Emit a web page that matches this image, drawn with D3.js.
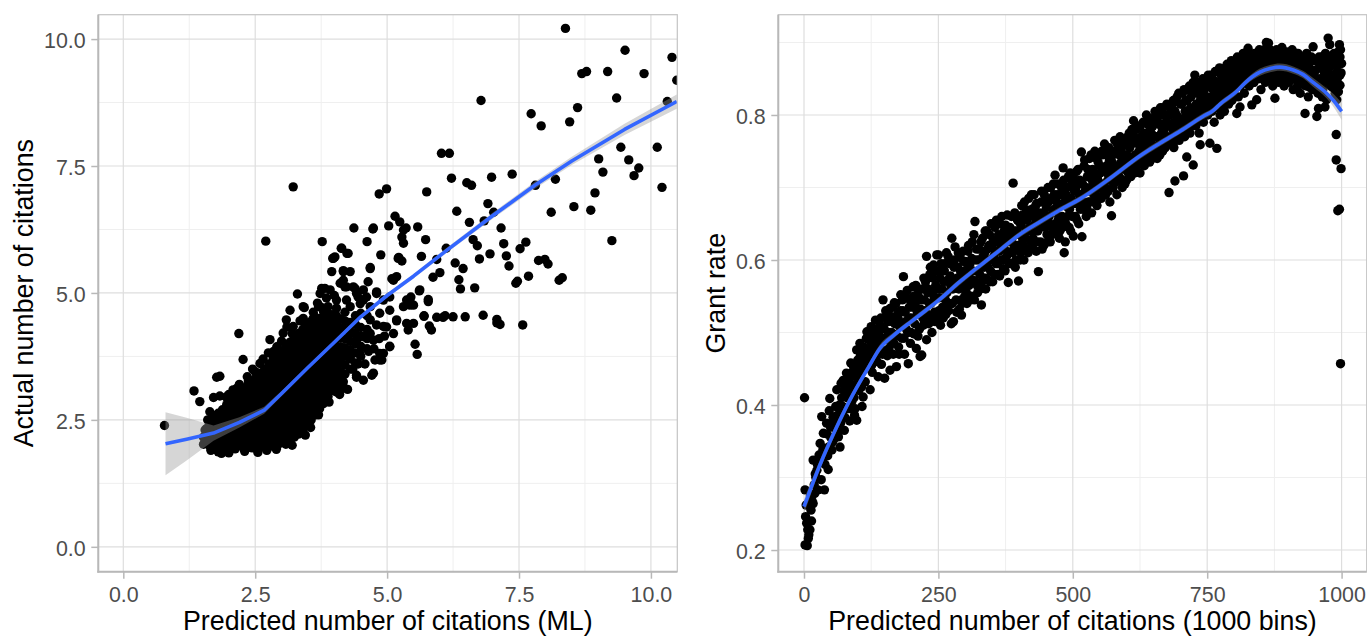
<!DOCTYPE html>
<html><head><meta charset="utf-8">
<script src="https://cdn.jsdelivr.net/npm/d3@7"></script>
<style>body{margin:0;background:#fff}svg{display:block}text{font-family:"Liberation Sans",Arial,sans-serif}</style>
</head><body><svg id="c" width="1367" height="637"></svg>
<script>
// ---------------- LEFT PANEL DATA ----------------
const leftXTicks = [0, 2.5, 5, 7.5, 10];
const leftYTicks = [0, 2.5, 5, 7.5, 10];
const leftXMinor = [1.25, 3.75, 6.25, 8.75];
const leftYMinor = [1.25, 3.75, 6.25, 8.75];
const leftXTitle = "Predicted number of citations (ML)";
const leftYTitle = "Actual number of citations";

const leftSparse = [
[0.78,2.39],[1.34,3.07],[1.45,2.86],[1.77,3.34],[1.83,3.36],[1.71,2.94],[1.83,2.97],[2.08,3.09],[2.15,3.12],[2.19,4.20],
[2.27,3.69],[2.37,3.27],[2.59,3.61],[1.64,2.66],[1.80,1.87],[1.86,1.84],[2.72,1.90],[3.10,2.10],[3.25,2.36],[3.76,2.82],
[3.41,4.50],[3.60,4.50],[3.10,4.33],[2.91,3.94],[3.41,4.73],[3.73,4.73],[2.70,6.02],[3.22,7.09],[3.77,6.01],[3.98,5.68],
[3.95,5.42],[3.30,4.98],[3.43,4.71],[3.73,4.99],[3.82,5.09],[3.88,4.73],[2.78,4.08],[3.03,4.21],[3.09,4.47],[3.16,4.66],
[3.22,4.34],[3.47,4.14],[3.54,4.34],[3.66,2.99],[3.79,2.82],
[4.37,6.28],[4.74,6.28],[4.62,6.01],[5.15,6.51],[5.03,6.32],[5.24,6.40],[5.31,6.24],[4.14,5.88],[3.97,5.68],[4.01,5.71],
[4.26,5.78],[4.88,5.75],[5.21,5.68],[4.17,5.42],[4.30,5.42],[4.68,5.48],[3.76,5.09],[3.92,5.06],[4.17,5.25],[4.23,5.12],
[4.39,5.09],[4.45,4.92],[4.64,5.22],[4.80,5.02],[3.70,4.73],[3.79,4.66],[4.04,4.86],[4.30,4.73],[4.55,4.86],[4.93,4.86],
[5.05,4.66],[5.31,4.73],[5.37,4.86],[5.18,4.47],[4.93,4.34],[4.80,4.37],[4.55,4.14],[4.68,4.20],[5.05,3.94],[4.93,3.81],
[4.86,3.68],[4.48,3.81],[4.74,3.42],[4.55,3.28],[4.42,3.38],[4.17,3.15],[4.04,3.05],
[4.11,5.19],[4.20,5.12],[4.36,5.12],[4.42,4.99],[4.55,5.06],[4.61,4.92],[4.23,4.86],[4.49,4.79],[4.68,4.73],[4.80,4.99],
[5.05,4.92],[5.12,5.25],[5.43,4.86],[5.50,4.76],[5.62,5.06],
[5.43,4.76],[5.78,4.83],[5.70,4.54],[5.94,4.52],[6.06,4.52],[6.25,4.53],[6.48,4.53],[6.82,4.56],[7.08,4.41],[7.14,4.38],
[7.57,4.37],[5.80,4.35],[5.84,4.27],[5.37,4.40],[5.40,4.27],[5.50,4.40],[5.18,4.45],[5.53,3.99],[5.57,3.79],[5.05,3.95],
[4.86,3.81],[4.77,3.68],[4.90,3.68],[4.71,3.38],[4.42,3.34],[4.11,3.09],[4.01,3.12],[4.17,3.25],[4.30,4.20],[4.42,4.07],
[4.17,3.87],[4.30,3.74],[3.92,3.55],[3.98,3.35],[4.68,4.47],[4.86,4.60],[4.99,4.33],[5.12,4.20],[4.74,4.07],
[8.38,10.21],[9.51,9.78],[10.40,9.64],[10.49,9.19],[8.69,9.32],[8.78,9.36],[9.18,9.36],[9.87,9.32],[9.35,8.84],[10.31,8.77],
[6.78,8.79],[7.73,8.53],[7.92,8.29],[8.61,8.65],[8.46,8.37],[6.03,7.75],[6.18,7.75],[9.43,7.87],[10.12,7.87],[9.01,7.64],
[9.58,7.62],[9.77,7.46],[9.68,7.31],[9.09,7.38],[10.21,7.08],[8.94,6.97],[8.54,6.70],[8.86,6.63],[8.11,6.59],[9.26,6.03],
[7.37,7.34],[6.98,7.28],[7.81,7.12],[8.19,7.24],[6.22,7.26],[6.51,7.17],[6.60,7.12],[5.75,6.99],[4.85,6.95],[4.99,7.05],
[6.91,6.76],[7.02,6.59],[6.32,6.61],[6.56,6.39],[6.84,6.42],[7.16,6.28],[4.73,6.26],[5.36,6.28],[5.58,6.30],[5.28,6.10],
[5.31,5.98],[5.73,6.05],[6.63,6.05],[6.71,5.93],[7.21,5.97],[7.63,6.00],[7.52,5.87],[4.13,5.88],[4.24,5.78],[5.22,5.70],
[5.28,5.63],[5.65,5.72],[6.12,5.88],[5.94,5.66],[6.29,5.59],[6.44,5.48],[6.75,5.67],[6.95,5.77],[7.26,5.73],[7.31,5.53],
[7.87,5.64],[7.99,5.66],[8.05,5.57],[4.68,5.50],[4.17,5.44],[5.09,5.28],[5.18,5.32],[5.87,5.31],[6.00,5.40],[6.36,5.26],
[6.39,5.08],[6.66,5.10],[7.44,5.19],[7.47,5.23],[7.68,5.33],[8.26,5.25],[8.32,5.30],[5.45,4.92],[5.47,4.77],[5.61,5.04],
[5.78,4.87],[5.70,4.55],[6.10,4.55],[7.08,4.48],
[3.60,4.62],[3.68,4.80],[3.85,4.90],[4.00,4.95],[3.55,2.35],[3.70,2.60],[3.90,2.85],[4.10,3.00],[4.25,3.10],[4.35,3.50],
[4.45,3.60],[4.58,3.60],[4.65,3.85],[4.75,3.90],[4.85,4.10],[4.95,4.15],[4.62,4.55],[4.50,4.60],[4.40,4.55],[2.50,3.45],
[2.35,3.35],[2.20,3.20],[2.00,3.00],[2.65,3.70],[2.85,3.85],[3.00,4.05],[3.20,4.20],[3.35,4.45],[1.95,2.95],[1.60,2.50],
[1.55,2.30],[1.66,1.90],[2.00,1.85],[2.30,1.88],[2.55,1.86],[2.90,1.92],[3.20,2.00],[3.45,2.20],[2.45,3.50],[2.75,3.82]
];

const leftCoreX = [1.52,1.58,1.64,1.72,1.80,1.88,1.96,2.04,2.12,2.20,2.28,2.36,2.44,2.52,2.60,2.68,2.76,2.84,2.92,3.00,
3.08,3.16,3.24,3.32,3.40,3.48,3.56,3.64,3.72,3.80,3.88,3.96,4.04,4.12,4.20,4.30,4.40,4.50,4.62];
const leftCoreY = [
[2.02,2.16],
[2.33,2.05],
[1.98,2.12,2.27,2.42],
[2.00,2.14,2.29,2.44,2.58],
[2.03,2.18,2.33,2.48,2.63],
[1.95,2.10,2.25,2.40,2.55,2.70],
[1.92,2.06,2.21,2.36,2.51,2.66,2.80],
[1.98,2.13,2.28,2.43,2.58,2.73,2.86],
[1.93,2.07,2.22,2.37,2.52,2.67,2.82,2.96],
[2.00,2.15,2.30,2.45,2.60,2.75,2.90,3.02],
[1.94,2.08,2.23,2.38,2.53,2.68,2.83,2.98,3.10],
[2.01,2.16,2.31,2.46,2.61,2.76,2.91,3.06,3.18],
[1.95,2.09,2.24,2.39,2.54,2.69,2.84,2.99,3.14,3.26],
[2.02,2.17,2.32,2.47,2.62,2.77,2.92,3.07,3.22,3.34],
[1.96,2.10,2.25,2.40,2.55,2.70,2.85,3.00,3.15,3.30,3.42],
[2.03,2.18,2.33,2.48,2.63,2.78,2.93,3.08,3.23,3.38,3.50],
[1.97,2.11,2.26,2.41,2.56,2.71,2.86,3.01,3.16,3.31,3.46,3.60],
[2.04,2.19,2.34,2.49,2.64,2.79,2.94,3.09,3.24,3.39,3.54,3.70],
[1.99,2.12,2.27,2.42,2.57,2.72,2.87,3.02,3.17,3.32,3.47,3.62,3.78],
[2.06,2.20,2.35,2.50,2.65,2.80,2.95,3.10,3.25,3.40,3.55,3.70,3.86],
[2.02,2.14,2.28,2.43,2.58,2.73,2.88,3.03,3.18,3.33,3.48,3.63,3.78,3.95],
[2.10,2.22,2.37,2.52,2.67,2.82,2.97,3.12,3.27,3.42,3.57,3.72,3.87,4.03],
[2.16,2.30,2.45,2.60,2.75,2.90,3.05,3.20,3.35,3.50,3.65,3.80,3.95,4.12],
[2.22,2.38,2.53,2.68,2.83,2.98,3.13,3.28,3.43,3.58,3.73,3.88,4.03,4.20],
[2.30,2.46,2.61,2.76,2.91,3.06,3.21,3.36,3.51,3.66,3.81,3.96,4.11,4.28],
[2.40,2.55,2.70,2.85,3.00,3.15,3.30,3.45,3.60,3.75,3.90,4.05,4.20,4.36],
[2.50,2.64,2.79,2.94,3.09,3.24,3.39,3.54,3.69,3.84,3.99,4.14,4.30,4.44],
[2.60,2.74,2.89,3.04,3.19,3.34,3.49,3.64,3.79,3.94,4.09,4.24,4.40,4.52],
[2.72,2.86,3.01,3.16,3.31,3.46,3.61,3.76,3.91,4.06,4.21,4.36,4.50],
[2.85,2.98,3.13,3.28,3.43,3.58,3.73,3.88,4.03,4.18,4.33,4.48,4.62],
[2.96,3.10,3.25,3.40,3.55,3.70,3.85,4.00,4.15,4.30,4.45,4.60],
[3.08,3.22,3.37,3.52,3.67,3.82,3.97,4.12,4.27,4.42,4.57],
[3.20,3.35,3.50,3.65,3.80,3.95,4.10,4.25,4.40,4.55,4.70],
[3.28,3.45,3.62,3.78,3.94,4.12,4.30,4.48],
[3.40,3.58,3.75,3.92,4.10,4.28,4.45,4.62],
[3.50,3.70,3.88,4.05,4.25,4.42],
[3.62,3.82,4.00,4.20,4.38],
[3.75,3.95,4.15,4.32],
[3.90,4.10,4.28]
];

const leftSmoothX  = [0.80,1.20,1.71,2.20,2.67,3.00,3.50,4.00,4.50,5.00,5.50,6.13,7.00,7.80,8.50,9.50,10.49];
const leftSmoothY  = [2.03,2.12,2.24,2.45,2.69,3.02,3.53,4.03,4.53,4.95,5.33,5.84,6.52,7.12,7.60,8.22,8.77];
const leftSmoothSE = [0.62,0.42,0.15,0.10,0.07,0.05,0.04,0.04,0.04,0.04,0.045,0.05,0.06,0.07,0.08,0.11,0.14];

// ---------------- RIGHT PANEL DATA ----------------
const rightXTicks = [0, 250, 500, 750, 1000];
const rightYTicks = [0.2, 0.4, 0.6, 0.8];
const rightXMinor = [125, 375, 625, 875];
const rightYMinor = [0.3, 0.5, 0.7, 0.9];
const rightXTitle = "Predicted number of citations (1000 bins)";
const rightYTitle = "Grant rate";

const rightPoints = [
[1,0.410],[2,0.283],[3,0.246],[5,0.237],[8,0.216],[11,0.228],[2,0.207],[6,0.206],[9,0.221],[4,0.262],[13,0.255],[15,0.268],[17,0.264],[20,0.278],[14,0.240],[7,0.228],[19,0.290],[12,0.275],[17,0.324],
[22,0.300],[24,0.310],[26,0.283],[28,0.331],[30,0.347],[32,0.297],[33,0.384],[34,0.322],[36,0.361],[38,0.283],[40,0.340],
[42,0.375],[44,0.330],[45,0.311],[47,0.392],[48,0.409],[50,0.355],[52,0.338],[54,0.383],[55,0.352],[57,0.368],[59,0.398],
[61,0.421],[62,0.372],[64,0.356],[66,0.400],[67,0.342],[69,0.430],[71,0.389],[73,0.434],[75,0.365],[77,0.412],[79,0.444],
[81,0.395],[83,0.425],[85,0.378],[87,0.458],[89,0.405],[91,0.440],[92,0.453],[94,0.386],[95,0.395],[97,0.428],[98,0.476],[98,0.379],[100,0.462],
[102,0.420],[104,0.485],[106,0.445],[108,0.398],[110,0.411],[112,0.470],[114,0.432],[116,0.492],[117,0.501],[119,0.452],
[121,0.478],[123,0.421],[125,0.508],[127,0.445],[129,0.488],[131,0.462],[133,0.517],[135,0.470],[137,0.497],[138,0.439],[140,0.482],
[142,0.510],[144,0.456],[147,0.545],[148,0.492],[150,0.437],[151,0.475],[153,0.522],[155,0.468],[157,0.500],[160,0.533],[160,0.448],
[162,0.488],[164,0.515],[166,0.470],[168,0.541],[170,0.497],[172,0.453],[174,0.525],[176,0.480],[178,0.508],[180,0.552],
[182,0.492],[184,0.530],[185,0.577],[187,0.470],[189,0.515],[191,0.548],[193,0.500],[194,0.457],[196,0.535],[198,0.485],[200,0.520],
[203,0.563],[205,0.498],[207,0.540],[209,0.478],[211,0.525],[213,0.558],[215,0.505],[216,0.467],[218,0.545],[219,0.469],[221,0.520],[223,0.575],
[225,0.530],[228,0.605],[228,0.490],[230,0.555],[232,0.512],[234,0.580],[236,0.540],[238,0.500],[241,0.593],[243,0.528],[245,0.565],[247,0.607],[249,0.520],
[250,0.607],[252,0.548],[254,0.510],[256,0.585],[258,0.535],[260,0.570],[262,0.595],[264,0.525],[266,0.555],[268,0.605],[270,0.540],[272,0.578],[274,0.512],
[275,0.630],[278,0.515],[281,0.618],[293,0.524],
[277,0.560],[279,0.590],[283,0.545],[285,0.575],[287,0.610],[289,0.532],[291,0.585],[293,0.545],[295,0.565],[297,0.598],[299,0.550],
[301,0.578],[303,0.540],[305,0.612],[307,0.565],[309,0.595],[311,0.550],[313,0.625],[315,0.572],[317,0.545],[318,0.653],[320,0.600],[322,0.565],[324,0.585],
[326,0.615],[328,0.560],[330,0.538],[330,0.600],[332,0.630],[334,0.575],[336,0.610],[338,0.560],[340,0.640],[342,0.590],[344,0.620],[346,0.570],[348,0.650],[350,0.600],
[352,0.628],[354,0.580],[356,0.612],[358,0.655],[360,0.595],[362,0.635],[364,0.578],[366,0.620],[368,0.660],[370,0.600],[372,0.640],[374,0.585],
[376,0.625],[378,0.662],[380,0.569],[381,0.610],[383,0.645],[385,0.595],[387,0.630],[389,0.706],[390,0.615],[392,0.665],[394,0.600],[396,0.640],[398,0.620],[399,0.571],
[401,0.652],[403,0.610],[405,0.675],[407,0.628],[409,0.600],[411,0.660],[413,0.640],[414,0.669],[416,0.615],[418,0.685],[420,0.645],[422,0.625],[424,0.670],
[426,0.630],[428,0.690],[430,0.650],[432,0.612],[433,0.678],[435,0.640],[436,0.584],[438,0.665],[440,0.625],[442,0.695],[444,0.650],[446,0.620],[448,0.680],[450,0.655],
[452,0.635],[454,0.700],[456,0.660],[458,0.625],[460,0.685],[462,0.645],[464,0.705],[466,0.670],[467,0.717],[469,0.640],[471,0.690],[473,0.655],[475,0.630],
[477,0.675],[479,0.700],[481,0.645],[482,0.727],[484,0.610],[486,0.625],[488,0.690],[490,0.660],[492,0.715],[494,0.670],[496,0.640],[498,0.705],[500,0.680],
[501,0.633],[503,0.695],[505,0.660],[507,0.722],[509,0.680],[511,0.650],[513,0.710],[515,0.690],[516,0.749],[517,0.632],[519,0.670],[521,0.730],[523,0.695],[525,0.660],
[527,0.715],[529,0.680],[531,0.740],[533,0.700],[535,0.665],[537,0.725],[539,0.690],[541,0.750],[543,0.705],[545,0.675],[547,0.735],[549,0.700],
[551,0.720],[553,0.685],[555,0.745],[557,0.705],[559,0.760],[561,0.690],[563,0.730],[565,0.710],[567,0.755],[569,0.680],[571,0.725],[572,0.661],[574,0.745],
[576,0.705],[578,0.765],[580,0.725],[582,0.690],[584,0.750],[586,0.715],[588,0.770],[590,0.735],[592,0.700],[594,0.760],[596,0.725],[598,0.745],[600,0.710],
[602,0.770],[604,0.730],[606,0.755],[608,0.715],[610,0.780],[612,0.740],[613,0.792],[615,0.720],[617,0.765],[619,0.735],[621,0.785],[623,0.750],[625,0.720],
[627,0.770],[629,0.745],[631,0.790],[633,0.730],[635,0.760],[637,0.800],[639,0.750],[641,0.775],[643,0.735],[645,0.795],[647,0.760],[649,0.785],
[651,0.745],[653,0.805],[655,0.770],[657,0.740],[659,0.790],[661,0.760],[663,0.810],[665,0.775],[667,0.750],[669,0.800],[671,0.765],[673,0.790],[675,0.815],
[677,0.770],[679,0.693],[680,0.800],[682,0.760],[684,0.815],[686,0.816],[686,0.780],[688,0.755],[690,0.709],[690,0.805],[692,0.775],[694,0.825],[696,0.790],[698,0.765],[700,0.815],
[702,0.780],[704,0.830],[706,0.716],[706,0.795],[708,0.770],[710,0.820],[712,0.742],[712,0.790],[714,0.835],[716,0.800],[718,0.775],[720,0.825],[722,0.795],[724,0.731],[724,0.845],
[726,0.810],[727,0.855],[729,0.785],[731,0.830],[733,0.841],[733,0.800],[735,0.775],[737,0.759],[737,0.820],[739,0.845],[741,0.805],[743,0.790],[745,0.835],[747,0.815],[749,0.850],
[751,0.800],[753,0.840],[755,0.761],[755,0.820],[757,0.855],[759,0.805],[761,0.835],[763,0.790],[764,0.846],[766,0.820],[768,0.754],[768,0.860],[770,0.810],[772,0.840],[774,0.800],
[776,0.855],[778,0.825],[780,0.845],[782,0.805],[784,0.865],[786,0.830],[788,0.850],[790,0.815],[792,0.870],[794,0.840],[796,0.820],[798,0.860],[800,0.835],
[802,0.870],[804,0.845],[805,0.802],[806,0.880],[808,0.825],[810,0.860],[811,0.811],[813,0.875],[815,0.845],[817,0.885],[819,0.830],[821,0.865],[823,0.850],[825,0.880],
[826,0.892],[828,0.840],[830,0.870],[832,0.855],[833,0.814],[835,0.880],[837,0.845],[839,0.875],[841,0.860],[842,0.821],[844,0.885],[846,0.850],[848,0.870],[850,0.835],
[852,0.880],[854,0.860],[856,0.890],[858,0.845],[860,0.900],[862,0.870],[864,0.899],[866,0.850],[868,0.880],[870,0.865],[872,0.840],[874,0.885],[876,0.823],
[877,0.860],[879,0.890],[881,0.870],[883,0.845],[885,0.880],[887,0.855],[889,0.893],[891,0.865],[893,0.840],[895,0.875],[897,0.850],[898,0.887],[900,0.868],
[902,0.845],[904,0.880],[906,0.860],[908,0.890],[910,0.835],[912,0.870],[914,0.855],[916,0.885],[918,0.840],[919,0.885],[921,0.865],[923,0.830],[925,0.875],
[927,0.850],[929,0.880],[931,0.860],[932,0.802],[934,0.840],[936,0.875],[938,0.825],[940,0.865],[942,0.850],[944,0.880],[946,0.835],[947,0.894],[949,0.860],
[951,0.845],[953,0.875],[954,0.798],[956,0.830],[957,0.809],[959,0.870],[961,0.850],[963,0.880],[965,0.835],[967,0.860],[969,0.811],[971,0.875],[972,0.821],[974,0.845],[975,0.906],
[977,0.865],[978,0.897],[980,0.840],[982,0.875],[984,0.855],[986,0.885],[988,0.830],[990,0.773],[990,0.738],[991,0.821],[992,0.860],[993,0.668],[994,0.832],[994,0.853],[995,0.870],
[996,0.670],[997,0.880],[997,0.855],[997,0.841],[998,0.457],[999,0.726],[1000,0.871],[998,0.890],[996,0.897]
];

const rightPointsMore = [
[21,0.305],[25,0.318],[29,0.325],[35,0.338],[39,0.318],[43,0.360],[46,0.342],[49,0.370],[53,0.349],[56,0.378],[60,0.385],
[63,0.362],[65,0.395],[68,0.375],[70,0.410],[72,0.398],[74,0.420],[76,0.383],[78,0.425],[80,0.410],[82,0.438],[84,0.395],
[86,0.430],[88,0.420],[90,0.445],[93,0.410],[96,0.448],[99,0.438],[101,0.455],[103,0.440],[105,0.468],[107,0.425],[109,0.458],
[111,0.480],[113,0.450],[115,0.475],[118,0.462],[120,0.490],[122,0.468],[124,0.495],[126,0.455],[128,0.480],[130,0.500],
[132,0.475],[134,0.505],[136,0.460],[139,0.500],[141,0.492],[143,0.520],[146,0.470],[149,0.505],[152,0.530],[154,0.490],
[156,0.515],[158,0.478],[161,0.522],[163,0.500],[165,0.535],[167,0.485],[169,0.512],[171,0.540],[173,0.495],[175,0.520],
[177,0.470],[179,0.530],[181,0.510],[183,0.545],[186,0.492],[188,0.528],[190,0.505],[192,0.558],[195,0.520],[197,0.545],
[199,0.500],[201,0.535],[204,0.550],[206,0.512],[208,0.565],[210,0.530],[212,0.495],[214,0.548],[217,0.532],[220,0.560],
[222,0.510],[224,0.545],[226,0.570],[229,0.525],[231,0.560],[233,0.540],[235,0.590],[237,0.520],[239,0.555],[240,0.575],
[242,0.548],[244,0.515],[246,0.585],[248,0.560],[251,0.530],[253,0.575],[255,0.595],[257,0.560],[259,0.520],[261,0.585],
[263,0.545],[265,0.610],[267,0.572],[269,0.530],[271,0.595],[273,0.565],[276,0.540],[280,0.600],[282,0.570],[284,0.528],
[286,0.590],[288,0.560],[290,0.605],[292,0.580],[294,0.540],[296,0.612],[298,0.570],[300,0.598],[302,0.555],[304,0.588],
[306,0.620],[308,0.575],[310,0.545],[312,0.602],[314,0.585],[316,0.635],[319,0.570],[321,0.615],[323,0.555],[325,0.600],
[327,0.580],[329,0.625],[331,0.570],[333,0.605],[335,0.590],[337,0.640],[339,0.575],[341,0.615],[343,0.600],[345,0.635],
[347,0.585],[349,0.620],[351,0.570],[353,0.605],[355,0.645],[357,0.595],[359,0.625],[361,0.580],[363,0.612],[365,0.650],
[367,0.600],[369,0.630],[371,0.588],[373,0.615],[375,0.648],[377,0.605],[379,0.635],[382,0.595],[384,0.625],[386,0.660],
[388,0.610],[391,0.640],[393,0.590],[395,0.620],[397,0.655],[400,0.635],[402,0.600],[404,0.648],[406,0.662],[408,0.620],
[410,0.680],[412,0.630],[415,0.655],[417,0.610],[419,0.665],[421,0.640],[423,0.690],[425,0.620],[427,0.660],[429,0.640],
[431,0.675],[434,0.625],[437,0.660],[439,0.645],[441,0.680],[443,0.615],[445,0.665],[447,0.690],[449,0.645],[451,0.672],
[453,0.625],[455,0.680],[457,0.650],[459,0.700],[461,0.635],[463,0.668],[465,0.690],[468,0.650],[470,0.680],[472,0.705],
[474,0.660],[476,0.640],[478,0.690],[480,0.660],[483,0.710],[485,0.680],[487,0.650],[489,0.700],[491,0.672],[493,0.645],
[495,0.720],[497,0.685],[499,0.660],[502,0.712],[504,0.678],[506,0.700],[508,0.655],[510,0.725],[512,0.690],[514,0.670],
[518,0.705],[520,0.680],[522,0.738],[524,0.700],[526,0.672],[528,0.725],[530,0.695],[532,0.680],[534,0.745],[536,0.710],
[538,0.680],[540,0.720],[542,0.690],[544,0.740],[546,0.712],[548,0.685],[550,0.730],[552,0.705],[554,0.750],[556,0.690],
[558,0.725],[560,0.700],[562,0.748],[564,0.720],[566,0.695],[568,0.738],[570,0.715],[573,0.735],[575,0.700],[577,0.750],
[579,0.725],[581,0.708],[583,0.760],[585,0.730],[587,0.745],[589,0.712],[591,0.755],[593,0.730],[595,0.740],[597,0.705],
[599,0.765],[601,0.745],[603,0.720],[605,0.775],[607,0.740],[609,0.760],[611,0.725],[614,0.770],[616,0.745],[618,0.780],
[620,0.730],[622,0.760],[624,0.745],[626,0.785],[628,0.755],[630,0.735],[632,0.775],[634,0.750],[636,0.790],[638,0.765],
[640,0.745],[642,0.785],[644,0.760],[646,0.775],[648,0.740],[650,0.795],[652,0.770],[654,0.755],[656,0.790],[658,0.770],
[660,0.800],[662,0.745],[664,0.785],[666,0.765],[668,0.810],[670,0.780],[672,0.755],[674,0.800],[676,0.790],[678,0.760],
[681,0.810],[683,0.785],[685,0.770],[687,0.820],[689,0.790],[691,0.765],[693,0.800],[695,0.780],[697,0.830],[699,0.795],
[701,0.770],[703,0.815],[705,0.790],[707,0.835],[709,0.805],[711,0.780],[713,0.820],[715,0.790],[717,0.840],[719,0.810],
[721,0.785],[723,0.830],[725,0.800],[728,0.840],[730,0.815],[732,0.795],[734,0.845],[736,0.810],[738,0.830],[740,0.795],
[742,0.850],[744,0.820],[746,0.805],[748,0.840],[750,0.825],[752,0.855],[754,0.810],[756,0.840],[758,0.825],[760,0.850],
[762,0.815],[765,0.860],[767,0.830],[769,0.845],[771,0.820],[773,0.865],[775,0.835],[777,0.850],[779,0.815],[781,0.860],
[783,0.840],[785,0.825],[787,0.870],[789,0.845],[791,0.830],[793,0.855],[795,0.875],[797,0.840],[799,0.850],[801,0.825],
[803,0.860],[807,0.850],[809,0.875],[812,0.840],[814,0.865],[816,0.855],[818,0.880],[820,0.845],[822,0.870],[824,0.860],
[827,0.885],[829,0.855],[831,0.875],[834,0.865],[836,0.845],[838,0.885],[840,0.870],[843,0.855],[845,0.875],[847,0.890],
[849,0.860],[851,0.870],[853,0.850],[855,0.875],[857,0.865],[859,0.885],[861,0.855],[863,0.875],[865,0.865],[867,0.890],
[869,0.855],[871,0.878],[873,0.860],[875,0.870],[878,0.850],[880,0.878],[882,0.860],[884,0.885],[886,0.868],[888,0.850],
[890,0.875],[892,0.860],[894,0.885],[896,0.862],[899,0.875],[901,0.855],[903,0.870],[905,0.848],[907,0.878],[909,0.862],
[911,0.885],[913,0.850],[915,0.872],[917,0.860],[920,0.845],[922,0.878],[924,0.858],[926,0.865],[928,0.842],[930,0.870],
[933,0.855],[935,0.885],[937,0.848],[939,0.872],[941,0.838],[943,0.862],[945,0.852],[948,0.875],[950,0.838],[952,0.862],
[955,0.850],[958,0.880],[960,0.842],[962,0.865],[964,0.825],[966,0.872],[968,0.848],[970,0.885],[973,0.858],[976,0.880],
[979,0.850],[981,0.868],[983,0.838],[985,0.870],[987,0.850],[989,0.878],[992,0.845],[995,0.888],[999,0.858]
];

const rightSmoothX  = [0,30,61,92,120,141,170,203,253,290,327,365,401,440,476,513,570,624,662,700,742,761,774,804,823,848,867,885,910,928,947,972,985,1000];
const rightSmoothY  = [0.260,0.318,0.370,0.416,0.452,0.478,0.498,0.517,0.546,0.570,0.592,0.614,0.635,0.653,0.669,0.684,0.713,0.743,0.761,0.778,0.798,0.806,0.815,0.832,0.846,0.859,0.864,0.866,0.862,0.856,0.845,0.830,0.820,0.805];
const rightSmoothSE = [0.010,0.007,0.006,0.005,0.005,0.005,0.004,0.004,0.004,0.004,0.004,0.004,0.004,0.004,0.004,0.004,0.004,0.004,0.004,0.004,0.004,0.004,0.004,0.004,0.004,0.005,0.005,0.005,0.005,0.005,0.006,0.007,0.009,0.012];

// ---------------- DRAWING ----------------
const svg = d3.select("#c");
const defs = svg.append("defs");
const FONT = '"Liberation Sans",Arial,sans-serif';

function drawPanel(o) {
  const g = svg.append("g");
  const x = d3.scaleLinear().domain(o.xDomain).range([o.left, o.right]);
  const y = d3.scaleLinear().domain(o.yDomain).range([o.bottom, o.top]);

  g.selectAll(".mx").data(o.xMinor).join("line")
    .attr("x1", d => x(d)).attr("x2", d => x(d)).attr("y1", o.top).attr("y2", o.bottom)
    .attr("stroke", "#efefef").attr("stroke-width", 1);
  g.selectAll(".my").data(o.yMinor).join("line")
    .attr("y1", d => y(d)).attr("y2", d => y(d)).attr("x1", o.left).attr("x2", o.right)
    .attr("stroke", "#efefef").attr("stroke-width", 1);
  g.selectAll(".gx").data(o.xTicks).join("line")
    .attr("x1", d => x(d)).attr("x2", d => x(d)).attr("y1", o.top).attr("y2", o.bottom)
    .attr("stroke", "#dedede").attr("stroke-width", 1.2);
  g.selectAll(".gy").data(o.yTicks).join("line")
    .attr("y1", d => y(d)).attr("y2", d => y(d)).attr("x1", o.left).attr("x2", o.right)
    .attr("stroke", "#dedede").attr("stroke-width", 1.2);

  const cid = "clip" + o.id;
  defs.append("clipPath").attr("id", cid).append("rect")
    .attr("x", o.left).attr("y", o.top).attr("width", o.right - o.left).attr("height", o.bottom - o.top);
  const pg = g.append("g").attr("clip-path", `url(#${cid})`);

  pg.selectAll("circle").data(o.points).join("circle")
    .attr("cx", d => x(d[0])).attr("cy", d => y(d[1])).attr("r", 4.7).attr("fill", "#000");

  const sm = o.smoothX.map((v, i) => ({x: v, y: o.smoothY[i], se: o.smoothSE[i]}));
  pg.append("path").datum(sm)
    .attr("d", d3.area().x(d => x(d.x)).y0(d => y(d.y - d.se)).y1(d => y(d.y + d.se)).curve(o.curve))
    .attr("fill", "#999999").attr("fill-opacity", 0.4);
  pg.append("path").datum(sm)
    .attr("d", d3.line().x(d => x(d.x)).y(d => y(d.y)).curve(o.curve))
    .attr("fill", "none").attr("stroke", "#3366FF").attr("stroke-width", 3.6).attr("stroke-linejoin", "round");

  g.append("rect").attr("x", o.left).attr("y", o.top).attr("width", o.right - o.left).attr("height", o.bottom - o.top)
    .attr("fill", "none").attr("stroke", "#c4c4c4").attr("stroke-width", 1.2);
  g.append("line").attr("x1", o.left).attr("x2", o.left).attr("y1", o.top).attr("y2", o.bottom + 1)
    .attr("stroke", "#b8b8b8").attr("stroke-width", 2);
  g.append("line").attr("x1", o.left - 1).attr("x2", o.right).attr("y1", o.bottom).attr("y2", o.bottom)
    .attr("stroke", "#b8b8b8").attr("stroke-width", 2);

  const ax = g.append("g").attr("transform", `translate(0,${o.bottom})`)
    .call(d3.axisBottom(x).tickValues(o.xTicks).tickFormat(o.xFmt).tickSize(7).tickSizeOuter(0));
  ax.select(".domain").remove();
  ax.selectAll(".tick line").attr("stroke", "#b8b8b8").attr("stroke-width", 1.5);
  ax.selectAll(".tick text").attr("y", 30.5).attr("dy", 0).attr("font-size", 21.4).attr("fill", "#4d4d4d")
    .attr("font-family", FONT);

  const ay = g.append("g").attr("transform", `translate(${o.left},0)`)
    .call(d3.axisLeft(y).tickValues(o.yTicks).tickFormat(o.yFmt).tickSize(7).tickSizeOuter(0));
  ay.select(".domain").remove();
  ay.selectAll(".tick line").attr("stroke", "#b8b8b8").attr("stroke-width", 1.5);
  ay.selectAll(".tick text").attr("x", -12.6).attr("dy", "0.4em").attr("font-size", 21.4).attr("fill", "#4d4d4d")
    .attr("font-family", FONT);

  g.append("text").attr("x", (o.left + o.right) / 2).attr("y", 630).attr("text-anchor", "middle")
    .attr("font-size", 26.8).attr("fill", "#000").text(o.xTitle);
  g.append("text").attr("transform", `translate(${o.yTitleX},${(o.top + o.bottom) / 2}) rotate(-90)`)
    .attr("text-anchor", "middle").attr("font-size", 26.8).attr("fill", "#000").text(o.yTitle);
}

drawPanel({
  id: "L", left: 98.3, right: 677.3, top: 14.7, bottom: 571.7,
  xDomain: [-0.474, 10.5], yDomain: [-0.49, 10.48],
  xTicks: leftXTicks, yTicks: leftYTicks, xMinor: leftXMinor, yMinor: leftYMinor,
  xFmt: d3.format(".1f"), yFmt: d3.format(".1f"),
  points: leftSparse.concat(leftCoreX.flatMap((xv, i) => leftCoreY[i].map(yv => [xv, yv]))),
  smoothX: leftSmoothX, smoothY: leftSmoothY, smoothSE: leftSmoothSE, curve: d3.curveLinear,
  xTitle: leftXTitle, yTitle: leftYTitle, yTitleX: 33
});

drawPanel({
  id: "R", left: 778.3, right: 1366.7, top: 14.7, bottom: 571.7,
  xDomain: [-47.8, 1046.7], yDomain: [0.1701, 0.9383],
  xTicks: rightXTicks, yTicks: rightYTicks, xMinor: rightXMinor, yMinor: rightYMinor,
  xFmt: d3.format("d"), yFmt: d3.format(".1f"),
  points: rightPoints.concat(rightPointsMore),
  smoothX: rightSmoothX, smoothY: rightSmoothY, smoothSE: rightSmoothSE, curve: d3.curveMonotoneX,
  xTitle: rightXTitle, yTitle: rightYTitle, yTitleX: 725
});
</script>
</body></html>
